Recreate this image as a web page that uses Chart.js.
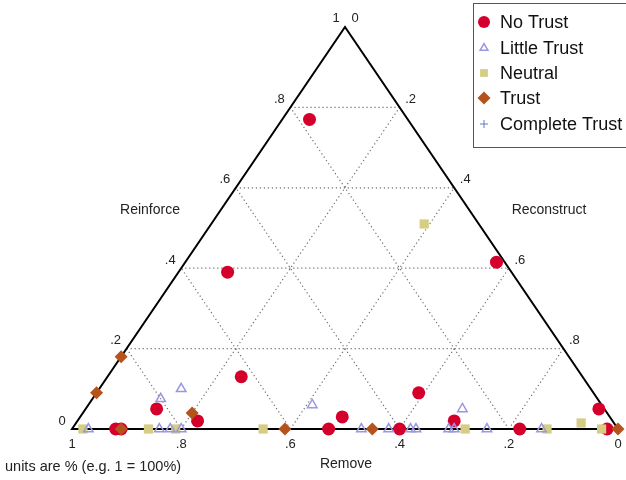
<!DOCTYPE html>
<html>
<head>
<meta charset="utf-8">
<script src="https://cdn.jsdelivr.net/npm/chart.js@4/dist/chart.umd.min.js"></script>
<style>
  body { margin: 0; background: #fff; }
  #wrap { width: 626px; height: 480px; position: relative; }
</style>
</head>
<body>
<div id="wrap"><canvas id="myChart"></canvas></div>
<script>
'use strict';

// shares per response: reinforce (apex), remove (bottom-left), reconstruct (bottom-right)
const groups = ['No Trust', 'Little Trust', 'Neutral', 'Trust', 'Complete Trust'];

const noTrustReinforce   = [.77, .39, .415, .13, .05, .02, .03, .09, .02, .05, 0, 0, 0, 0, 0, 0];
const noTrustRemove      = [.18, .52, .015, .625, .82, .76, .49, .32, .29, .01, .92, .91, .53, .40, .18, .02];
const noTrustReconstruct = [.05, .09, .57, .245, .13, .22, .48, .59, .69, .94, .08, .09, .47, .60, .82, .98];

const littleReinforce   = [.075, .10, .06, .05, 0, 0, 0, 0, 0, 0, 0, 0, 0, 0, 0, 0];
const littleRemove      = [.80, .75, .53, .26, .97, .84, .82, .80, .47, .42, .38, .37, .31, .30, .24, .14];
const littleReconstruct = [.125, .15, .41, .69, .03, .16, .18, .20, .53, .58, .62, .63, .69, .70, .76, .86];

const neutralReinforce   = [.51, .015, 0, 0, 0, 0, 0, 0, 0];
const neutralRemove      = [.10, .06, .98, .86, .81, .65, .28, .13, .03];
const neutralReconstruct = [.39, .925, .02, .14, .19, .35, .72, .87, .97];

const trustReinforce   = [.18, .09, .04, 0, 0, 0, 0];
const trustRemove      = [.82, .91, .76, .91, .61, .45, 0];
const trustReconstruct = [0, 0, .20, .09, .39, .55, 1];

const completeReinforce   = [];
const completeRemove      = [];
const completeReconstruct = [];

const tickValues = [.2, .4, .6, .8];
const tickLabels = ['.2', '.4', '.6', '.8'];
const removeTicks = [1, .8, .6, .4, .2, 0];
const removeLabels = ['1', '.8', '.6', '.4', '.2', '0'];

// ternary -> plane: x grows with reconstruct, y is reinforce
function toXY(rein, rem, rec) {
  return rein.map((r, i) => {
    const s = r + rem[i] + rec[i];
    const R = r / s, C = rec[i] / s;
    return { x: C + R / 2, y: R };
  });
}

const styles = [
  { pointStyle: 'circle', radius: 6.5, backgroundColor: '#d4002b', borderColor: '#d4002b', borderWidth: 0, order: 5 },
  { pointStyle: 'triangle', radius: 5.5, backgroundColor: 'rgba(0,0,0,0)', borderColor: '#9a98e0', borderWidth: 1.5, order: 3 },
  { pointStyle: 'rect', radius: 6.5, backgroundColor: '#d5cd82', borderColor: '#d5cd82', borderWidth: 0, order: 4 },
  { pointStyle: 'rectRot', radius: 6.5, backgroundColor: '#b5531d', borderColor: '#b5531d', borderWidth: 0, order: 2 },
  { pointStyle: 'cross', radius: 4, backgroundColor: '#5b7cc2', borderColor: '#5b7cc2', borderWidth: 1, order: 1 },
];

const points = [
  toXY(noTrustReinforce, noTrustRemove, noTrustReconstruct),
  toXY(littleReinforce, littleRemove, littleReconstruct),
  toXY(neutralReinforce, neutralRemove, neutralReconstruct),
  toXY(trustReinforce, trustRemove, trustReconstruct),
  toXY(completeReinforce, completeRemove, completeReconstruct),
];

const FONT = '"Liberation Sans", Arial, sans-serif';

const ternaryFrame = {
  id: 'ternaryFrame',
  beforeDatasetsDraw(chart) {
    const { ctx, scales: { x, y } } = chart;
    const pt = (r, c) => [x.getPixelForValue(c + r / 2), y.getPixelForValue(r)];
    ctx.save();

    // dotted grid
    ctx.strokeStyle = '#6e6e6e';
    ctx.lineWidth = 1.2;
    ctx.setLineDash([1.2, 2.8]);
    const seg = (a, b) => { ctx.beginPath(); ctx.moveTo(a[0], a[1]); ctx.lineTo(b[0], b[1]); ctx.stroke(); };
    tickValues.forEach(v => {
      seg(pt(v, 0), pt(v, 1 - v));
      seg(pt(0, 1 - v), pt(1 - v, 0));
      seg(pt(0, v), pt(1 - v, v));
    });
    ctx.setLineDash([]);

    // triangle
    const a = pt(0, 0), b = pt(0, 1), c = pt(1, 0);
    ctx.strokeStyle = '#000';
    ctx.lineWidth = 2;
    ctx.beginPath();
    ctx.moveTo(a[0], a[1]); ctx.lineTo(b[0], b[1]); ctx.lineTo(c[0], c[1]); ctx.closePath();
    ctx.stroke();

    // tick labels
    ctx.fillStyle = '#222';
    ctx.font = '13px ' + FONT;
    ctx.textAlign = 'center';
    ctx.textBaseline = 'middle';
    tickValues.forEach((v, i) => {
      const l = pt(v, 0);
      ctx.fillText(tickLabels[i], l[0] - 11, l[1] - 8);
      const r = pt(1 - v, v);
      ctx.fillText(tickLabels[i], r[0] + 11, r[1] - 8);
    });
    removeTicks.forEach((v, i) => {
      const p = pt(0, 1 - v);
      ctx.fillText(removeLabels[i], p[0], p[1] + 15);
    });
    ctx.fillText('1', c[0] - 9, c[1] - 9);
    ctx.fillText('0', c[0] + 10, c[1] - 9);
    ctx.fillText('0', a[0] - 10, a[1] - 8);

    // axis names
    ctx.font = '14px ' + FONT;
    ctx.fillText('Reinforce', 150, 210);
    ctx.fillText('Reconstruct', 549, 210);
    ctx.fillText('Remove', 346, 464);
    ctx.restore();
  },
  afterDraw(chart) {
    const { ctx } = chart;
    ctx.save();
    ctx.fillStyle = '#222';
    ctx.font = '14.5px ' + FONT;
    ctx.textAlign = 'left';
    ctx.textBaseline = 'middle';
    ctx.fillText('units are % (e.g. 1 = 100%)', 5, 467);

    // legend box
    ctx.fillStyle = '#fff';
    ctx.fillRect(473.5, 3.5, 160, 144);
    ctx.strokeStyle = '#555';
    ctx.lineWidth = 1;
    ctx.strokeRect(473.5, 3.5, 160, 144);
    const rowY = [22, 48, 73, 98, 124];
    const legendRadius = [6, 4.5, 5.5, 6.5, 4];
    ctx.font = '18px ' + FONT;
    groups.forEach((g, i) => {
      const s = styles[i];
      ctx.fillStyle = s.backgroundColor;
      ctx.strokeStyle = s.borderColor;
      ctx.lineWidth = s.borderWidth;
      Chart.helpers.drawPoint(ctx, { pointStyle: s.pointStyle, radius: legendRadius[i], rotation: 0, borderWidth: s.borderWidth }, 484, rowY[i]);
      ctx.fillStyle = '#111';
      ctx.fillText(g, 500, rowY[i] + 1);
    });
    ctx.restore();
  }
};

new Chart(document.getElementById('myChart'), {
  type: 'scatter',
  data: {
    datasets: groups.map((g, i) => ({
      label: g,
      data: points[i],
      pointStyle: styles[i].pointStyle,
      pointRadius: styles[i].radius,
      pointHoverRadius: styles[i].radius,
      backgroundColor: styles[i].backgroundColor,
      borderColor: styles[i].borderColor,
      borderWidth: styles[i].borderWidth,
      order: styles[i].order,
      clip: false,
    })),
  },
  options: {
    responsive: true,
    maintainAspectRatio: false,
    animation: false,
    events: [],
    layout: { padding: { left: 72, right: 8, top: 27, bottom: 51 } },
    scales: {
      x: { type: 'linear', min: 0, max: 1, display: false },
      y: { type: 'linear', min: 0, max: 1, display: false },
    },
    plugins: { legend: { display: false }, tooltip: { enabled: false } },
  },
  plugins: [ternaryFrame],
});
</script>
</body>
</html>
